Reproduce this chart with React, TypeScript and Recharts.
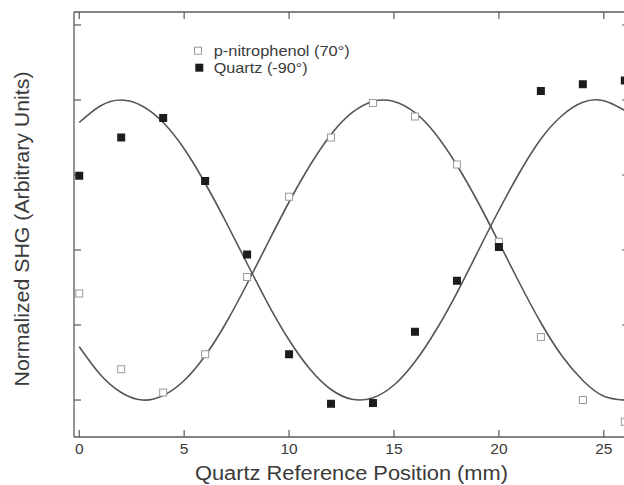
import React from 'react';
import { ComposedChart, Line, Scatter, XAxis, YAxis, Legend, Label } from 'recharts';

// Measured positions (mm) and normalized SHG signals
const positions = [0, 2, 4, 6, 8, 10, 12, 14, 16, 18, 20, 22, 24, 26];
const nitrophenolSignal = [1.42, 0.41, 0.1, 0.61, 1.64, 2.71, 3.5, 3.96, 3.78, 3.14, 2.11, 0.84, 0.0, -0.29];
const quartzSignal = [2.99, 3.5, 3.76, 2.92, 1.94, 0.61, -0.05, -0.04, 0.91, 1.59, 2.04, 4.12, 4.21, 4.26];

// Fitted curves
const fitPositions = [0, 1, 2, 3, 4, 5, 6, 7, 8, 9, 10, 11, 12, 13, 14, 15, 16, 17, 18, 19, 20, 21, 22, 23, 24, 25, 26];
const quartzFit = [3.7, 3.92, 4.0, 3.92, 3.7, 3.35, 2.89, 2.37, 1.82, 1.28, 0.8, 0.41, 0.14, 0.01, 0.03, 0.2, 0.51, 0.93, 1.43, 1.98, 2.53, 3.04, 3.48, 3.79, 3.97, 3.99, 3.86];
const nitrophenolFit = [0.71, 0.34, 0.1, 0.0, 0.06, 0.26, 0.59, 1.03, 1.55, 2.1, 2.64, 3.13, 3.54, 3.83, 3.98, 3.98, 3.83, 3.54, 3.13, 2.64, 2.1, 1.55, 1.03, 0.59, 0.26, 0.05, 0.0];

const xTicks = [0, 5, 10, 15, 20, 25];
const yTicks = [0, 1, 2, 3, 4, 5];

const seriesNames = ['p-nitrophenol (70\u00b0)', 'Quartz (-90\u00b0)'];
const xTitle = 'Quartz Reference Position (mm)';
const yTitle = 'Normalized SHG (Arbitrary Units)';

const nitroPoints = positions.map((x, i) => ({ x, y: nitrophenolSignal[i] }));
const quartzPoints = positions.map((x, i) => ({ x, y: quartzSignal[i] }));
const quartzCurve = fitPositions.map((x, i) => ({ x, y: quartzFit[i] }));
const nitroCurve = fitPositions.map((x, i) => ({ x, y: nitrophenolFit[i] }));

const FONT = '"Liberation Sans", Arial, Helvetica, sans-serif';
const TEXT = '#3a3a3a';
const AXIS = '#5a5a5a';

const OpenSquare = (props: any) => {
  const { cx, cy } = props;
  if (cx == null || cy == null) return null;
  return <rect x={cx - 3.5} y={cy - 3.5} width={7} height={7} fill="#fff" stroke="#9a9a9a" strokeWidth={1} />;
};

const FilledSquare = (props: any) => {
  const { cx, cy } = props;
  if (cx == null || cy == null) return null;
  return <rect x={cx - 4} y={cy - 4} width={8} height={8} fill="#1c1c1c" />;
};

const NoLabel = () => <g />;

const LegendContent = () => (
  <svg width={180} height={40} style={{ display: 'block', overflow: 'visible' }}>
    <rect x={4.5} y={7.2} width={7} height={7} fill="#fff" stroke="#9a9a9a" strokeWidth={1} />
    <text x={23.7} y={16} fontSize={15} fontFamily={FONT} fill={TEXT} textLength={136} lengthAdjust="spacingAndGlyphs">
      {seriesNames[0]}
    </text>
    <rect x={5.3} y={23.7} width={8} height={8} fill="#1c1c1c" />
    <text x={23.7} y={33} fontSize={15} fontFamily={FONT} fill={TEXT} textLength={94} lengthAdjust="spacingAndGlyphs">
      {seriesNames[1]}
    </text>
  </svg>
);

const XTitle = () => (
  <text x={351.5} y={480} textAnchor="middle" fontSize={19.5} fontFamily={FONT} fill={TEXT} textLength={313} lengthAdjust="spacingAndGlyphs">
    {xTitle}
  </text>
);

const YTitle = () => (
  <text x={28.5} y={229} textAnchor="middle" fontSize={19.5} fontFamily={FONT} fill={TEXT} transform="rotate(-90, 28.5, 229)" textLength={315} lengthAdjust="spacingAndGlyphs">
    {yTitle}
  </text>
);

const frameAxisLine = { stroke: AXIS, strokeWidth: 1.3 };
const frameTickLine = { stroke: AXIS, strokeWidth: 1.2 };

export default function App() {
  const xDomain: [number, number] = [-0.25, 26.2];
  const yDomain: [number, number] = [-0.493, 5.173];
  return (
    <div style={{ position: 'absolute', left: 0, top: 0, width: 624, height: 485, overflow: 'hidden', background: '#fff' }}>
      <ComposedChart width={634} height={485} margin={{ top: 12, right: 5, bottom: 0, left: 74 }}>
        {/* label-only bottom axis (takes the space below the plot) */}
        <XAxis
          xAxisId="b"
          type="number"
          dataKey="x"
          orientation="bottom"
          domain={xDomain}
          allowDataOverflow
          ticks={xTicks}
          interval={0}
          height={48}
          tickSize={0}
          tickMargin={6}
          tick={{ fontSize: 15.5, fill: TEXT, fontFamily: FONT }}
          axisLine={false}
          tickLine={false}
        >
          <Label content={XTitle} />
        </XAxis>
        {/* frame: inward ticks on all four sides */}
        <XAxis
          xAxisId="bm"
          type="number"
          dataKey="x"
          orientation="bottom"
          mirror
          domain={xDomain}
          allowDataOverflow
          ticks={xTicks}
          interval={0}
          height={10}
          tickSize={7}
          tick={NoLabel}
          axisLine={frameAxisLine}
          tickLine={frameTickLine}
        />
        <XAxis
          xAxisId="t"
          type="number"
          dataKey="x"
          orientation="top"
          mirror
          domain={xDomain}
          allowDataOverflow
          ticks={xTicks}
          interval={0}
          height={10}
          tickSize={7}
          tick={NoLabel}
          axisLine={frameAxisLine}
          tickLine={frameTickLine}
        />
        <YAxis
          yAxisId="l"
          type="number"
          orientation="left"
          mirror
          domain={yDomain}
          allowDataOverflow
          ticks={yTicks}
          interval={0}
          width={10}
          tickSize={7}
          tick={NoLabel}
          axisLine={frameAxisLine}
          tickLine={frameTickLine}
        >
          <Label content={YTitle} />
        </YAxis>
        <YAxis
          yAxisId="r"
          type="number"
          orientation="right"
          mirror
          domain={yDomain}
          allowDataOverflow
          ticks={yTicks}
          interval={0}
          width={10}
          tickSize={7}
          tick={NoLabel}
          axisLine={frameAxisLine}
          tickLine={frameTickLine}
        />
        <Legend
          layout="horizontal"
          verticalAlign="middle"
          align="center"
          content={LegendContent}
          wrapperStyle={{ position: 'absolute', left: 190, top: 40, width: 180, height: 40 }}
        />
        <Line
          xAxisId="b"
          yAxisId="l"
          data={quartzCurve}
          dataKey="y"
          type="natural"
          stroke="#555"
          strokeWidth={1.6}
          dot={false}
          activeDot={false}
          isAnimationActive={false}
          legendType="none"
        />
        <Line
          xAxisId="b"
          yAxisId="l"
          data={nitroCurve}
          dataKey="y"
          type="natural"
          stroke="#555"
          strokeWidth={1.6}
          dot={false}
          activeDot={false}
          isAnimationActive={false}
          legendType="none"
        />
        <Scatter
          xAxisId="b"
          yAxisId="l"
          name={seriesNames[0]}
          data={nitroPoints}
          dataKey="y"
          shape={OpenSquare}
          isAnimationActive={false}
        />
        <Scatter
          xAxisId="b"
          yAxisId="l"
          name={seriesNames[1]}
          data={quartzPoints}
          dataKey="y"
          shape={FilledSquare}
          isAnimationActive={false}
        />
      </ComposedChart>
    </div>
  );
}
